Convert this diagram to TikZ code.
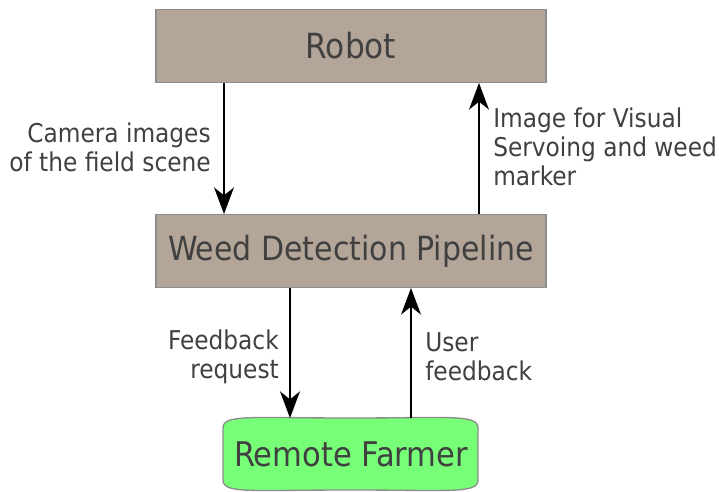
\documentclass[tikz,border=0pt]{standalone}
\usepackage{fontspec}
\setmainfont{DejaVu Sans Condensed}
\usetikzlibrary{arrows.meta}
\definecolor{boxfill}{HTML}{B3A598}
\definecolor{boxline}{HTML}{8C8C8C}
\definecolor{farmfill}{HTML}{77FF77}
\definecolor{txt}{HTML}{404040}
\tikzset{
  block/.style={draw=boxline, line width=1pt, fill=boxfill, text=txt, inner sep=0pt},
  lbl/.style={text=txt, font=\fontsize{19.4}{21.75}\selectfont, inner sep=0pt, align=left},
  link/.style={line width=1pt, -{Stealth[length=20pt, width=15pt, inset=6pt]}}
}
\begin{document}
\begin{tikzpicture}[x=0.75pt, y=-0.75pt]
  \useasboundingbox (0,0) rectangle (719,492);
  % main blocks
  \node[block, minimum width=292.5pt, minimum height=54.75pt, font=\fontsize{26}{30}\selectfont]
    (robot) at (351,46) {Robot};
  \node[block, minimum width=292.5pt, minimum height=55pt, font=\fontsize{25}{30}\selectfont]
    (wdp) at (351,251) {Weed Detection Pipeline};
  % farmer: box with rounded ends
  \coordinate (farmer) at (351,454);
  \draw[draw=boxline, line width=1pt, fill=farmfill]
    (223,428) .. controls (223,414) and (250,418) .. (350,418)
    .. controls (450,418) and (478,414) .. (478,428)
    -- (478,480) .. controls (478,494) and (450,490) .. (350,490)
    .. controls (250,490) and (223,494) .. (223,480) -- cycle;
  \node[text=txt, inner sep=0pt, font=\fontsize{25.5}{30}\selectfont] (farmerlbl) at (farmer) {Remote Farmer};
  % anchor points on the block edges
  \coordinate (rA) at (224,83);
  \coordinate (wA) at (224,214);
  \coordinate (rB) at (479,83);
  \coordinate (wB) at (479,214);
  \coordinate (wC) at (290,288);
  \coordinate (fC) at (290,418);
  \coordinate (wD) at (411,288);
  \coordinate (fD) at (411,418);
  \draw[link] (rA) -- (wA);
  \draw[link] (wB) -- (rB);
  \draw[link] (wC) -- (fC);
  \draw[link] (fD) -- (wD);
  % connector labels
  \node[lbl, align=right, anchor=east] (l1) at (211,147) {Camera images\\of the field scene};
  \node[lbl, anchor=west] (l2) at (493,147) {Image for Visual\\Servoing and weed\\marker};
  \node[lbl, align=right, anchor=east] (l3) at (279,357) {Feedback\\request};
  \node[lbl, anchor=west] (l4) at (425,357) {User\\feedback};
\end{tikzpicture}
\end{document}
